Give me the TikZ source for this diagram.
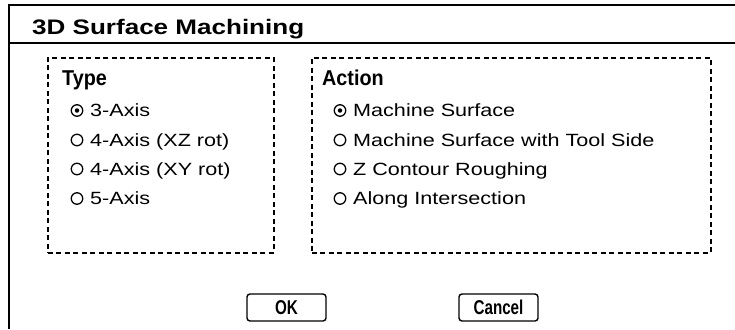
\documentclass[tikz,border=0pt]{standalone}
\usepackage{fontspec}
\setmainfont{Liberation Sans}
\newfontfamily\titlefont[FakeStretch=1.24]{Liberation Sans}
\newfontfamily\widefont[FakeStretch=1.22]{Liberation Sans}
\newfontfamily\narrowfont[FakeStretch=0.92]{Liberation Sans}
\newfontfamily\condfont[FakeStretch=0.76]{Liberation Sans}
\usetikzlibrary{positioning}

\tikzstyle{frame}=[black,line width=2pt]
\tikzstyle{group}=[draw,black,line width=1.5pt,dash pattern=on 5pt off 3.5pt,inner sep=0pt,anchor=north west]
\tikzstyle{radio}=[draw,black,circle,minimum size=11.5pt,inner sep=0pt,line width=1.3pt]
\tikzstyle{dot}=[fill=black,circle,minimum size=4.5pt,inner sep=0pt]
\tikzstyle{heading}=[anchor=base west,inner sep=0pt,font=\narrowfont\bfseries\fontsize{21.5}{24}\selectfont]
\tikzstyle{choice}=[anchor=base west,inner sep=0pt,font=\widefont\fontsize{17.7}{21}\selectfont]
\tikzstyle{button}=[draw,black,rounded corners=3pt,line width=1.4pt,minimum width=79pt,minimum height=27pt,inner sep=0pt,font=\condfont\bfseries\fontsize{20}{23}\selectfont]

\begin{document}
\begin{tikzpicture}[x=1pt,y=-1pt]
    \useasboundingbox (0,0) rectangle (735,329);
    % window frame
    \draw[frame] (735,5) -- (9,5) -- (9,329);
    \draw[frame] (9,43) -- (735,43);
    \node (title) [anchor=base west,inner sep=0pt,font=\titlefont\bfseries\fontsize{21}{24}\selectfont] at (32,35) {3D Surface Machining};
    % groups
    \node (typebox) [group,minimum width=226pt,minimum height=195pt] at (47,57) {};
    \node (actbox) [group,minimum width=399pt,minimum height=195pt] at (311,57) {};
    \node (typehead) [heading] at (62,85) {Type};
    \node (acthead) [heading] at (322,85) {Action};
    % type choices
    \node (t1) [radio] at (77,110.5) {};
    \node (t2) [radio] at (77,140) {};
    \node (t3) [radio] at (77,169) {};
    \node (t4) [radio] at (77,198.5) {};
    \node [dot] at (t1) {};
    \node (t1l) [choice] at (90,116.5) {3-Axis};
    \node (t2l) [choice] at (90,146) {4-Axis (XZ rot)};
    \node (t3l) [choice] at (90,175) {4-Axis (XY rot)};
    \node (t4l) [choice] at (90,204.5) {5-Axis};
    % action choices
    \node (a1) [radio] at (340,110.5) {};
    \node (a2) [radio] at (340,140) {};
    \node (a3) [radio] at (340,169) {};
    \node (a4) [radio] at (340,198.5) {};
    \node [dot] at (a1) {};
    \node (a1l) [choice] at (353,116.5) {Machine Surface};
    \node (a2l) [choice] at (353,146) {Machine Surface with Tool Side};
    \node (a3l) [choice] at (353,175) {Z Contour Roughing};
    \node (a4l) [choice] at (353,204.5) {Along Intersection};
    % buttons
    \node (ok) [button] at (286.5,307.5) {OK};
    \node (cancel) [button] at (498.5,307.5) {Cancel};
\end{tikzpicture}
\end{document}
